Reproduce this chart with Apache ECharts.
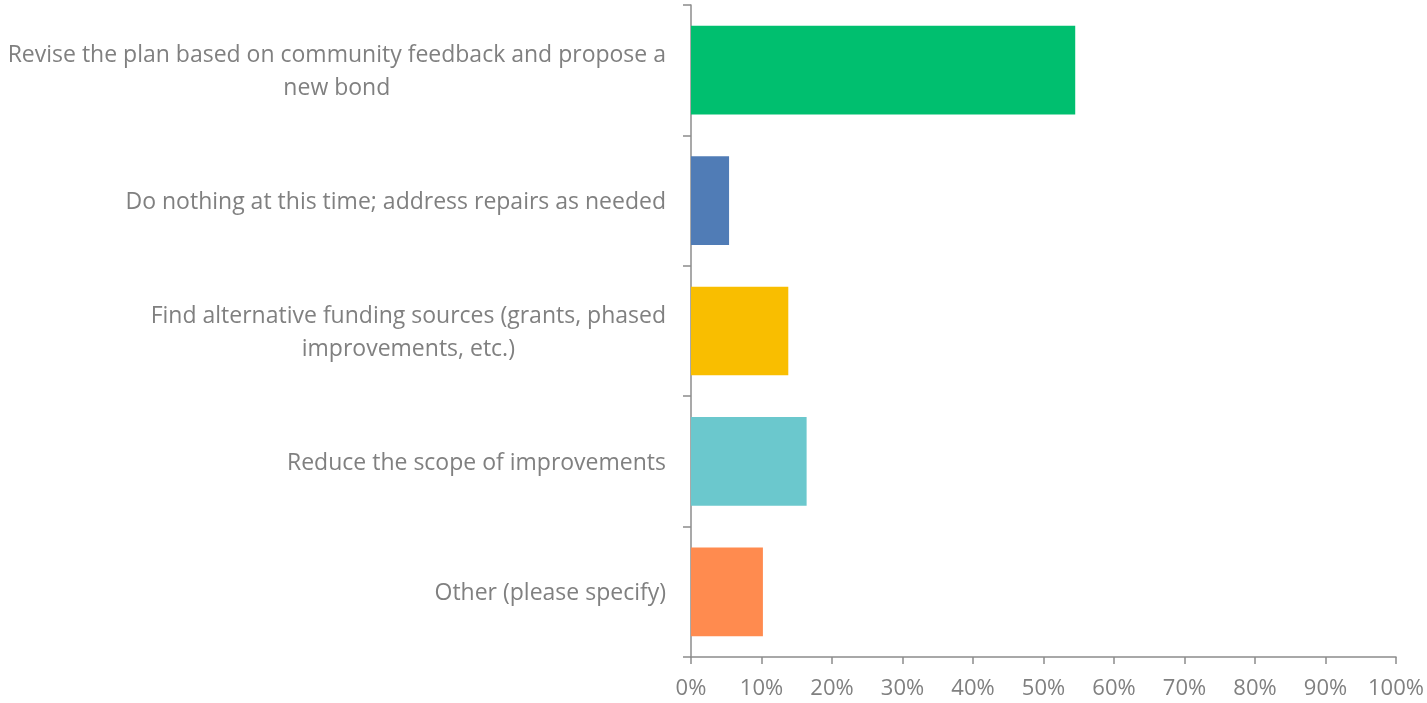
<!DOCTYPE html>
<html><head><meta charset="utf-8">
<script src="https://cdn.jsdelivr.net/npm/echarts@6/dist/echarts.min.js"></script>
<style>html,body{margin:0;padding:0;background:#fff}#c{width:1427px;height:703px}</style>
</head><body><div id="c"></div>
<script>
const categories = [
  "Revise the plan based on community feedback and propose a\nnew bond",
  "Do nothing at this time; address repairs as needed",
  "Find alternative funding sources (grants, phased\nimprovements, etc.)",
  "Reduce the scope of improvements",
  "Other (please specify)"
];
const values = [54.5, 5.4, 13.8, 16.4, 10.2];
const barColors = ["#00BF6F", "#507CB6", "#F9BE00", "#6BC8CD", "#FF8B4F"];
const xTicks = [0, 10, 20, 30, 40, 50, 60, 70, 80, 90, 100];

const FONT = '"Open Sans"';
const chart = echarts.init(document.getElementById('c'), null, {renderer: 'canvas'});
chart.setOption({
  animation: false,
  grid: {left: 691, right: 31, top: 5, bottom: 46, containLabel: false},
  xAxis: {
    type: 'value', min: xTicks[0], max: xTicks[xTicks.length - 1], interval: 10,
    splitLine: {show: false},
    axisLine: {show: true, lineStyle: {color: '#8c8c8c', width: 1.5}},
    axisTick: {show: true, length: 7, lineStyle: {color: '#8c8c8c', width: 1.5}},
    axisLabel: {formatter: v => v + '%', color: '#808080', fontSize: 22, fontFamily: FONT, margin: 21}
  },
  yAxis: {
    type: 'category', data: categories, inverse: true,
    axisLine: {show: true, lineStyle: {color: '#8c8c8c', width: 1.5}},
    axisTick: {show: true, length: 8, lineStyle: {color: '#8c8c8c', width: 1.5}},
    axisLabel: {
      color: '#808080', fontSize: 23, fontFamily: FONT, margin: 25, lineHeight: 33, align: 'right',
      padding: [4, 0, 0, 0],
      formatter: v => v.split('\n').map(s => '{a|' + s + '}').join('\n'),
      rich: {a: {color: '#808080', fontSize: 23, fontFamily: FONT, lineHeight: 33, align: 'center'}}
    }
  },
  series: [{
    type: 'bar', barCategoryGap: '32%',
    data: values.map((v, i) => ({value: v, itemStyle: {color: barColors[i]}}))
  }]
});
</script></body></html>
